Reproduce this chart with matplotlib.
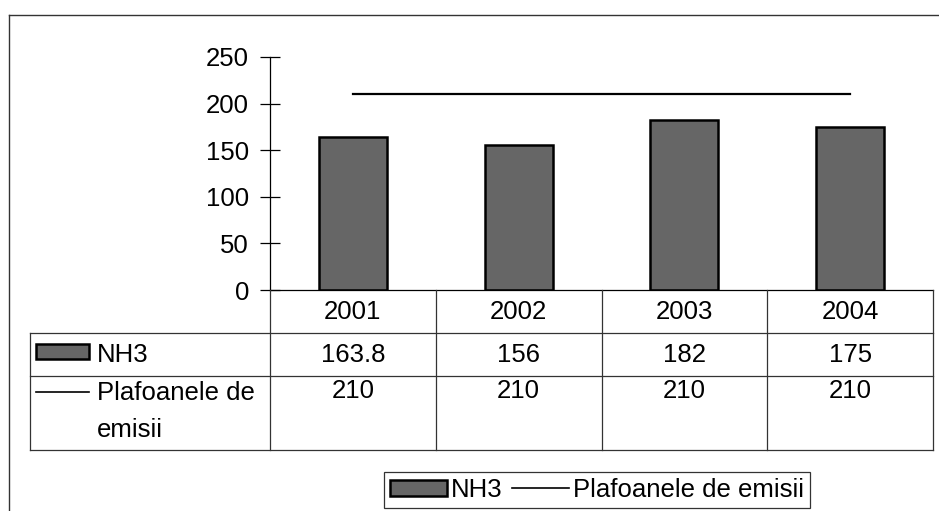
import matplotlib
matplotlib.use('Agg')
import matplotlib.pyplot as plt
from matplotlib.lines import Line2D
from matplotlib.patches import Patch, Rectangle
import numpy as np

plt.rcParams['font.family'] = ['Liberation Sans', 'DejaVu Sans']

years = ['2001', '2002', '2003', '2004']
nh3 = [163.8, 156, 182, 175]
plafon = [210, 210, 210, 210]
nh3_labels = ['163.8', '156', '182', '175']
plafon_labels = ['210', '210', '210', '210']
yticks = [0, 50, 100, 150, 200, 250]

W, H = 939, 511
BAR_COLOR = '#666666'
FS = 18.5


def fx(px):
    return px / W


def fy(py):
    return 1 - py / H


fig = plt.figure(figsize=(W / 100, H / 100), dpi=100)
fig.patch.set_facecolor('white')

# outer chart frame (extends beyond the image on right and bottom)
fig.add_artist(Line2D([fx(9), fx(9)], [fy(15), fy(H + 5)], color='#333333', lw=1.0))
fig.add_artist(Line2D([fx(9), fx(W + 5)], [fy(15), fy(15)], color='#333333', lw=1.0))

left, right, top, bottom = 270, 933, 57, 290
ax = fig.add_axes([fx(left), fy(bottom), fx(right) - fx(left), fy(top) - fy(bottom)])
x = np.arange(len(years))
ax.bar(x, nh3, width=0.41, color=BAR_COLOR, edgecolor='black', linewidth=1.8, zorder=2)
ax.plot(x, plafon, color='black', linewidth=1.6, zorder=3)
ax.set_xlim(-0.5, len(years) - 0.5)
ax.set_ylim(0, 250)
ax.set_yticks(yticks)
ax.set_yticklabels([str(t) for t in yticks], fontsize=FS)
ax.set_xticks([])
for s in ['top', 'right']:
    ax.spines[s].set_visible(False)
ax.spines['left'].set_linewidth(0.9)
ax.spines['bottom'].set_linewidth(0.9)
ax.tick_params(axis='y', direction='inout', length=14, width=0.9, pad=8)

# data table under the axis
col_edges = [left + (right - left) * i / len(years) for i in range(len(years) + 1)]
row_edges = [290, 333, 376, 450]
table_left = 30
lc = '#333333'
tlw = 0.9
for xe in col_edges:
    fig.add_artist(Line2D([fx(xe), fx(xe)], [fy(row_edges[0]), fy(row_edges[-1])], color=lc, lw=tlw))
fig.add_artist(Line2D([fx(table_left), fx(table_left)], [fy(row_edges[1]), fy(row_edges[-1])], color=lc, lw=tlw))
for ye in row_edges[1:]:
    fig.add_artist(Line2D([fx(table_left), fx(right)], [fy(ye), fy(ye)], color=lc, lw=tlw))

for i in range(len(years)):
    cx = fx((col_edges[i] + col_edges[i + 1]) / 2)
    fig.text(cx, fy(312), years[i], ha='center', va='center', fontsize=FS)
    fig.text(cx, fy(355), nh3_labels[i], ha='center', va='center', fontsize=FS)
    fig.text(cx, fy(391), plafon_labels[i], ha='center', va='center', fontsize=FS)

# row headers with legend keys
fig.add_artist(Rectangle((fx(36), fy(359)), fx(89) - fx(36), fy(344) - fy(359),
                         facecolor=BAR_COLOR, edgecolor='black', lw=1.8))
fig.text(fx(97), fy(355), 'NH3', ha='left', va='center', fontsize=FS)
fig.add_artist(Line2D([fx(36), fx(89)], [fy(392), fy(392)], color='black', lw=1.2))
fig.text(fx(97), fy(393), 'Plafoanele de', ha='left', va='center', fontsize=FS)
fig.text(fx(97), fy(430), 'emisii', ha='left', va='center', fontsize=FS)

# legend at the bottom
handles = [Patch(facecolor=BAR_COLOR, edgecolor='black', linewidth=1.8, label='NH3'),
           Line2D([0], [0], color='black', lw=1.2, label='Plafoanele de emisii')]
leg = fig.legend(handles=handles, loc='center', bbox_to_anchor=(fx(597), fy(490)),
                 ncol=2, fontsize=FS, frameon=True, fancybox=False, shadow=False,
                 handlelength=2.2, handleheight=0.6, handletextpad=0.15, columnspacing=0.4,
                 borderpad=0.25, borderaxespad=0)
leg.get_frame().set_edgecolor('black')
leg.get_frame().set_linewidth(0.9)

fig.savefig('out.png', dpi=100)
